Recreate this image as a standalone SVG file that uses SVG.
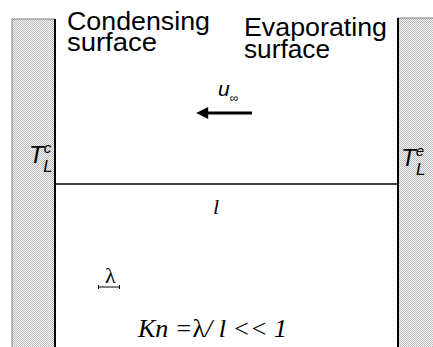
<svg xmlns="http://www.w3.org/2000/svg" width="433" height="347" viewBox="0 0 433 347">
<defs>
<pattern id="stipple" width="2" height="2" patternUnits="userSpaceOnUse">
<rect width="2" height="2" fill="#f4f4f4"/>
<rect x="0" y="0" width="1" height="1" fill="#bdbdbd"/>
<rect x="1" y="1" width="1" height="1" fill="#bdbdbd"/>
</pattern>
<marker id="ah" viewBox="0 0 10 10" refX="1" refY="5" markerWidth="6.5" markerHeight="4" markerUnits="strokeWidth" orient="auto-start-reverse">
<path d="M0,0 L10,5 L0,10 z" fill="#000"/>
</marker>
<style>
.sans{font-family:"Liberation Sans",Arial,sans-serif;fill:#000}
.it{font-style:italic}
.serif{font-family:"Liberation Serif","Times New Roman",serif;fill:#000}
.wall{fill:url(#stipple)}
.head{font-size:26px}
</style>
</defs>
<rect width="433" height="347" fill="#fff"/>
<g id="condensing-wall">
<rect class="wall" x="12" y="19" width="43" height="330" stroke="#666" stroke-width="0.8"/>
<line x1="55" y1="19" x2="55" y2="347" stroke="#000" stroke-width="2"/>
<text class="sans it" x="29" y="163" font-size="24">T<tspan font-size="15" dy="-10">c</tspan><tspan font-size="17" dx="-8" dy="19">L</tspan></text>
</g>
<g id="evaporating-wall">
<rect class="wall" x="398" y="18" width="40" height="331" stroke="#666" stroke-width="0.8"/>
<line x1="398" y1="18" x2="398" y2="347" stroke="#000" stroke-width="2"/>
<text class="sans it" x="401" y="166" font-size="24">T<tspan font-size="15" dy="-10">e</tspan><tspan font-size="17" dx="-8" dy="19">L</tspan></text>
</g>
<g id="labels">
<text class="sans head" x="67" y="30" textLength="143" lengthAdjust="spacingAndGlyphs">Condensing</text>
<text class="sans head" x="67" y="51" textLength="90" lengthAdjust="spacingAndGlyphs">surface</text>
<text class="sans head" x="244" y="36" textLength="143" lengthAdjust="spacingAndGlyphs">Evaporating</text>
<text class="sans head" x="244" y="58" textLength="86" lengthAdjust="spacingAndGlyphs">surface</text>
<text class="sans it" x="218" y="96" font-size="21">u<tspan font-size="12" font-style="normal" dy="6">∞</tspan></text>
<text class="serif it" x="213" y="214" font-size="22">l</text>
<text class="serif" x="105" y="283" font-size="22">λ</text>
<text class="serif it" x="138" y="337" font-size="26">Kn =<tspan style="font-style:normal">λ</tspan>/ l &lt;&lt; 1</text>
</g>
<g id="connectors">
<line x1="56" y1="184" x2="398" y2="184" stroke="#000" stroke-width="1.5"/>
<line x1="252" y1="113" x2="207" y2="113" stroke="#000" stroke-width="3" marker-end="url(#ah)"/>
<line x1="98" y1="287" x2="120" y2="287" stroke="#000" stroke-width="1"/>
<line x1="98.5" y1="285" x2="98.5" y2="289" stroke="#000" stroke-width="1"/>
<line x1="119.5" y1="285" x2="119.5" y2="289" stroke="#000" stroke-width="1"/>
</g>
</svg>
